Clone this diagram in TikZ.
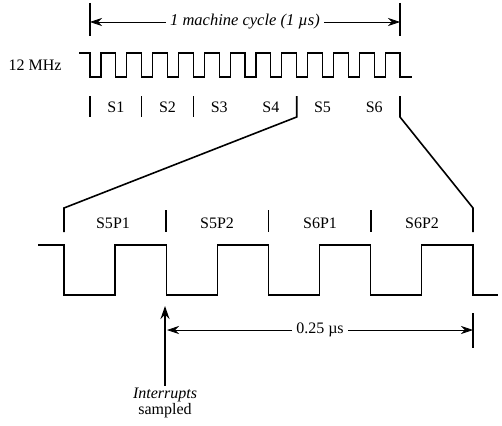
\documentclass[tikz,border=0pt]{standalone}
\usepackage{fontspec}
\setmainfont{Liberation Serif}
\usetikzlibrary{arrows.meta,positioning,calc}
\tikzset{
  wave/.style={line width=1.3pt, line join=miter},
  tickmark/.style={line width=1.6pt},
  dimline/.style={line width=0.7pt, -{Stealth[length=12pt,width=8pt]}},
  lbl/.style={font=\fontsize{16}{18}\selectfont, inner sep=4pt},
}

\begin{document}
\begin{tikzpicture}[x=1pt,y=-1pt]
  \useasboundingbox (0,0) rectangle (502,425);
  % one machine cycle
  \coordinate (mcL) at (90,22);
  \coordinate (mcR) at (400,22);
  \draw[tickmark] (90,3) -- (90,36);
  \draw[tickmark] (400,3) -- (400,36);
  \node[lbl, font=\fontsize{16.5}{18}\selectfont\itshape] (mc) at (245,22) {1 machine cycle (1 µs)};
  \draw[dimline] (mc.west) -- (mcL);
  \draw[dimline] (mc.east) -- (mcR);
  % 12 MHz clock
  \node[lbl] (osc) at (35,65) {12 MHz};
  \draw[wave] (79,53) \foreach \i in {0,...,11}{
      -- ({90+25.833*\i},53) -- ({90+25.833*\i},77)
      -- ({101+25.833*\i},77) -- ({101+25.833*\i},53) }
    -- (400,53) -- (400,77) -- (412,77);
  % states S1..S6
  \foreach \k in {0,1,2,4} \draw[tickmark] ({90+51.667*\k},96) -- ({90+51.667*\k},117);
  \foreach \k in {1,...,6} \node[lbl] (s\k) at ({64.2+51.667*\k},107) {S\k};
  \coordinate (s4end) at (296.7,117);
  \coordinate (s6end) at (400,117);
  % phases of S5 and S6
  \coordinate (p0) at (64,208);
  \coordinate (p4) at (473,208);
  \draw[tickmark, line join=miter] (296.7,96) -- (s4end) -- (p0) -- (64,232);
  \draw[tickmark, line join=miter] (400,96) -- (s6end) -- (p4) -- (473,232);
  \foreach \k in {1,2,3} \draw[tickmark] ({64+102.25*\k},210) -- ({64+102.25*\k},232);
  \node[lbl] (s5p1) at (113,223) {S5P1};
  \node[lbl] (s5p2) at (217,223) {S5P2};
  \node[lbl] (s6p1) at (320,223) {S6P1};
  \node[lbl] (s6p2) at (422,223) {S6P2};
  \draw[wave] (38,245) \foreach \i in {0,...,3}{
      -- ({64+102.25*\i},245) -- ({64+102.25*\i},295)
      -- ({115+102.25*\i},295) -- ({115+102.25*\i},245) }
    -- (473,245) -- (473,295) -- (498,295);
  % sampling point and 0.25 us
  \node[lbl, align=center, inner sep=2pt] (intr) at (165,403) {\textit{Interrupts}\\[-2pt]sampled};
  \coordinate (samp) at (165,306);
  \draw[line width=1.6pt, -{Stealth[length=13pt,width=9pt]}] (intr.north) -- (samp);
  \coordinate (qL) at (167,330);
  \coordinate (qR) at (473,330);
  \draw[tickmark] (473,313) -- (473,348);
  \node[lbl] (quarter) at (320,330) {0.25 µs};
  \draw[dimline] (quarter.west) -- (qL);
  \draw[dimline] (quarter.east) -- (qR);
\end{tikzpicture}
\end{document}
